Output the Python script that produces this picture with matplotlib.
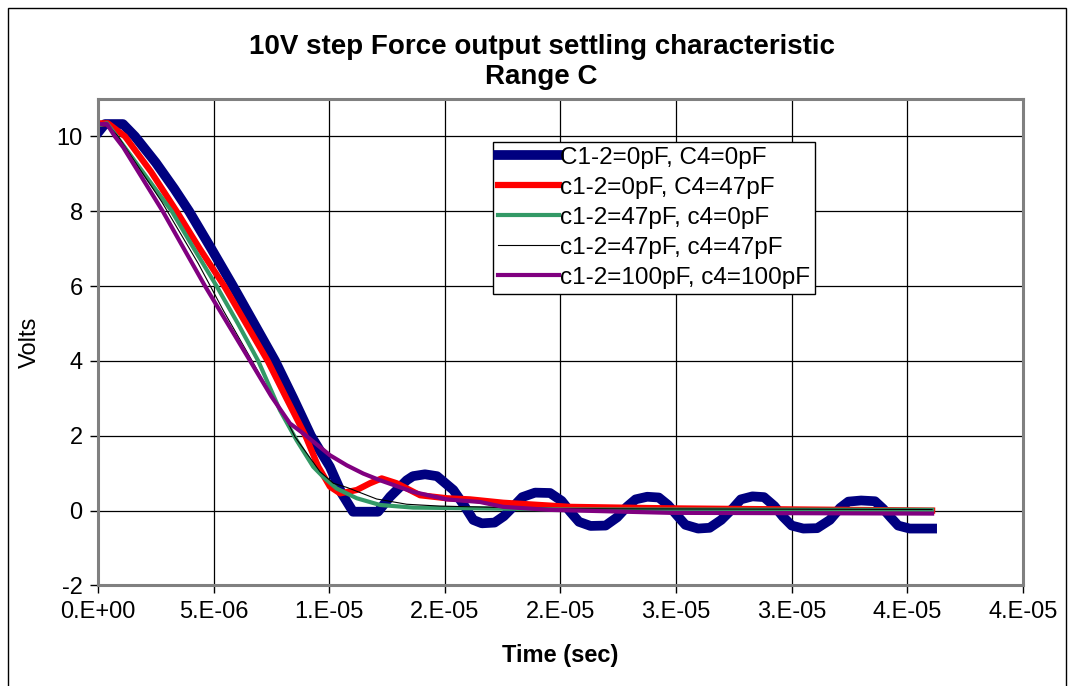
#!/usr/bin/env python
# -*- coding: utf-8 -*-
"""
10V step settling curves (Force output, Range C) for several compensation
capacitor combinations. Values read off scope captures, time in microseconds.
"""

import matplotlib
matplotlib.use("Agg")
import matplotlib.pyplot as plt
from matplotlib.patches import Rectangle

plt.rcParams["font.family"] = ["Liberation Sans", "DejaVu Sans"]
plt.rcParams["axes.unicode_minus"] = False

# C1-2=0pF, C4=0pF
blue_t = [0.00, 0.30, 1.08, 1.60, 2.50, 3.30, 3.94, 4.90, 5.84, 6.75,
          7.66, 8.45, 9.21, 10.03, 10.54, 11.03, 12.11, 12.63, 13.35, 13.62,
          14.14, 14.66, 15.37, 15.85, 16.23, 16.60, 17.15, 17.55, 17.95, 18.35,
          18.90, 19.55, 20.05, 20.42, 20.80, 21.30, 21.95, 22.45, 22.87, 23.25,
          23.75, 24.25, 24.65, 25.03, 25.40, 25.95, 26.45, 26.95, 27.47, 27.80,
          28.30, 28.80, 29.25, 29.63, 30.00, 30.50, 31.10, 31.65, 32.09, 32.45,
          33.00, 33.60, 33.95, 34.26, 34.60, 35.10, 36.07]
blue_v = [10.10, 10.33, 10.33, 10.00, 9.30, 8.60, 8.00, 7.00, 6.00, 5.00,
          4.00, 3.00, 2.00, 1.17, 0.46, -0.03, -0.03, 0.37, 0.81, 0.92,
          0.97, 0.92, 0.55, 0.12, -0.25, -0.34, -0.32, -0.15, 0.10, 0.36,
          0.48, 0.47, 0.26, -0.03, -0.30, -0.41, -0.40, -0.18, 0.10, 0.30,
          0.37, 0.35, 0.15, -0.12, -0.38, -0.48, -0.46, -0.25, 0.07, 0.30,
          0.38, 0.36, 0.12, -0.17, -0.40, -0.48, -0.47, -0.25, 0.07, 0.24,
          0.27, 0.25, 0.05, -0.17, -0.40, -0.48, -0.48]

# c1-2=0pF, C4=47pF
red_t = [0.00, 0.43, 1.17, 2.30, 3.40, 4.40, 5.46, 6.40, 7.34, 8.15,
         8.97, 9.53, 10.03, 10.47, 11.19, 11.76, 12.27, 12.92, 13.93, 15.08,
         16.09, 17.52, 20.42, 24.74, 30.36, 36.07]
red_v = [10.35, 10.35, 10.00, 9.05, 8.00, 7.00, 6.00, 5.00, 4.00, 3.00,
         2.00, 1.17, 0.64, 0.46, 0.55, 0.73, 0.86, 0.73, 0.41, 0.33,
         0.30, 0.21, 0.10, 0.06, 0.03, 0.00]

# c1-2=47pF, c4=0pF
green_t = [0.00, 0.39, 0.81, 2.00, 3.19, 4.15, 5.13, 6.05, 6.93, 7.87,
           8.59, 9.31, 9.74, 10.32, 11.19, 12.20, 13.63, 16.52, 20.00, 36.07]
green_v = [10.30, 10.35, 10.00, 9.00, 8.00, 7.00, 6.00, 5.00, 4.00, 2.68,
           1.88, 1.17, 0.90, 0.59, 0.33, 0.15, 0.08, 0.06, 0.03, 0.02]

# c1-2=47pF, c4=47pF
black_t = [0.00, 0.43, 0.87, 2.76, 4.34, 5.42, 6.65, 7.30, 8.16, 8.52,
           9.24, 9.60, 10.18, 10.76, 12.05, 13.35, 14.79, 20.00, 36.07]
black_v = [10.35, 10.30, 10.00, 8.25, 6.60, 5.35, 4.02, 3.30, 2.42, 1.97,
           1.35, 1.04, 0.73, 0.62, 0.31, 0.17, 0.12, 0.05, 0.03]

# c1-2=100pF, c4=100pF
purple_t = [0.00, 0.39, 0.73, 1.09, 2.80, 4.63, 6.58, 7.50, 8.30, 8.88,
            10.03, 10.76, 11.47, 12.20, 13.63, 15.08, 16.52, 17.52, 19.50, 24.74,
            36.07]
purple_v = [10.33, 10.33, 10.00, 9.71, 8.00, 6.00, 4.00, 3.05, 2.33, 2.06,
            1.48, 1.21, 0.99, 0.81, 0.50, 0.30, 0.23, 0.10, 0.02, -0.06,
            -0.08]

labels = ["C1-2=0pF, C4=0pF", "c1-2=0pF, C4=47pF", "c1-2=47pF, c4=0pF",
          "c1-2=47pF, c4=47pF", "c1-2=100pF, c4=100pF"]

x_ticks_us = [0, 5, 10, 15, 20, 25, 30, 35, 40]
x_tick_labels = ["0.E+00", "5.E-06", "1.E-05", "2.E-05", "2.E-05",
                 "3.E-05", "3.E-05", "4.E-05", "4.E-05"]
y_ticks = [-2, 0, 2, 4, 6, 8, 10]


def main():
    fig = plt.figure(figsize=(10.73, 6.86), dpi=100)
    ax = fig.add_axes([0.0913, 0.1466, 0.8621, 0.7091])

    series = [
        (blue_t, blue_v, "#000080", 7.0),
        (red_t, red_v, "#FF0000", 4.5),
        (green_t, green_v, "#339966", 3.0),
        (black_t, black_v, "#000000", 0.8),
        (purple_t, purple_v, "#800080", 3.0),
    ]
    for (t_us, v, color, lw), lab in zip(series, labels):
        t = [x * 1e-6 for x in t_us]
        ax.plot(t, v, color=color, lw=lw, label=lab)

    ax.set_xlim(0, 40e-6)
    ax.set_ylim(-2, 11)
    ax.set_xticks([x * 1e-6 for x in x_ticks_us])
    ax.set_xticklabels(x_tick_labels)
    ax.set_yticks(y_ticks)
    ax.tick_params(axis="both", labelsize=17, length=6, width=1,
                   color="black", direction="out", pad=5)

    ax.grid(True, color="black", lw=0.9)
    ax.set_axisbelow(True)
    for sp in ax.spines.values():
        sp.set_color("#808080")
        sp.set_linewidth(2.2)

    ax.set_xlabel("Time (sec)", fontsize=17, fontweight="bold")
    ax.xaxis.set_label_coords(0.5, -0.145)
    ax.xaxis.label.set_va("center")
    ax.set_ylabel("Volts", fontsize=17)
    ax.yaxis.set_label_coords(-0.074, 0.5)
    ax.yaxis.label.set_va("center")

    fig.suptitle("10V step Force output settling characteristic\nRange C",
                 x=0.5047, y=1 - 62 / 686, va="center",
                 fontsize=20, fontweight="bold", linespacing=1.15)

    leg = ax.legend(loc="upper left", bbox_to_anchor=(493 / 1073, 1 - 141.7 / 686),
                    bbox_transform=fig.transFigure, fontsize=17.5,
                    handlelength=2.5, handletextpad=0.05, labelspacing=0.33,
                    borderpad=0.2, borderaxespad=0, fancybox=False,
                    framealpha=1, edgecolor="black")
    leg.get_frame().set_linewidth(1.0)

    # outer chart border
    fig.patches.append(Rectangle((8 / 1073, -0.01), 1058 / 1073, 1 - 8 / 686 + 0.01,
                                 transform=fig.transFigure, fill=False,
                                 edgecolor="black", lw=1.0))

    fig.savefig("out.png", dpi=100, facecolor="white")
    plt.close(fig)


if __name__ == "__main__":
    main()
